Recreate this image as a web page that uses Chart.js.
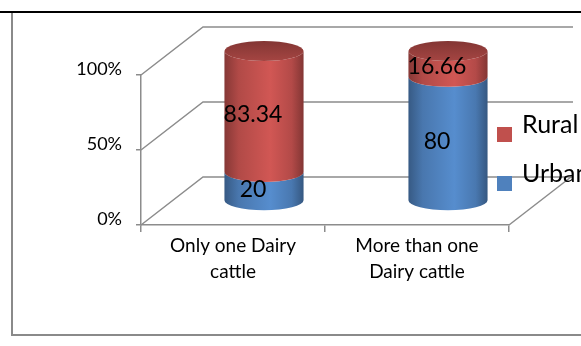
<!DOCTYPE html>
<html>
<head>
<meta charset="utf-8">
<style>
  html, body { margin: 0; padding: 0; background: #fff; }
  canvas { display: block; }
</style>
</head>
<body>
<canvas id="chart" width="581" height="346"></canvas>
<script src="https://cdn.jsdelivr.net/npm/chart.js@4/dist/chart.umd.min.js"></script>
<script>
// Dairy cattle ownership, Urban vs Rural (100% stacked)
const categories = [['Only one Dairy', 'cattle'], ['More than one', 'Dairy cattle']];
const urban = [20, 80];
const rural = [83.34, 16.66];
const yTickValues = [0, 50, 100];
const seriesNames = ['Urban', 'Rural'];
const seriesColors = ['#4F81BD', '#C0504D'];

// share of each series within its category, in percent
const shareOf = (part, other) => part.map((v, i) => v / (v + other[i]) * 100);
const rawValues = [urban, rural];

const LINE = '#8c8c8c';
const FONT = 'Lato, "Open Sans", sans-serif';
const DEPTH = { dx: 62, dy: -48 };   // back wall offset of the 3D box
const MID = { dx: 31, dy: -24 };     // cylinders sit halfway into the box
const LABEL = { dx: 20, dy: -21 };
const RY = 10;

function shade(hex, f) {
  const n = parseInt(hex.slice(1), 16);
  const ch = [(n >> 16) & 255, (n >> 8) & 255, n & 255].map(c => Math.max(0, Math.min(255, Math.round(c * f))));
  return `rgb(${ch[0]},${ch[1]},${ch[2]})`;
}

const cylinders3d = {
  id: 'cylinders3d',
  beforeDatasetsDraw(chart) {
    const ctx = chart.ctx;
    const area = chart.chartArea;
    const ys = chart.scales.y;
    ctx.save();

    // side and back walls of the box
    ctx.strokeStyle = LINE;
    ctx.lineWidth = 1.5;
    yTickValues.forEach(v => {
      const py = ys.getPixelForValue(v);
      ctx.beginPath();
      ctx.moveTo(area.left, py);
      ctx.lineTo(area.left + DEPTH.dx, py + DEPTH.dy);
      ctx.lineTo(area.right + DEPTH.dx + 2, py + DEPTH.dy);
      ctx.stroke();
    });
    ctx.beginPath();
    ctx.moveTo(area.right, area.bottom);
    ctx.lineTo(area.right + DEPTH.dx, area.bottom + DEPTH.dy);
    ctx.stroke();

    // cylinders, bottom series first
    const last = chart.data.datasets.length - 1;
    chart.data.datasets.forEach((ds, i) => {
      const meta = chart.getDatasetMeta(i);
      const base = seriesColors[i];
      meta.data.forEach(el => {
        const cx = el.x + MID.dx;
        const rx = el.width / 2;
        const ty = el.y + MID.dy;
        const by = el.base + MID.dy;

        const g = ctx.createLinearGradient(cx - rx, 0, cx + rx, 0);
        g.addColorStop(0, shade(base, 0.7));
        g.addColorStop(0.18, shade(base, 0.92));
        g.addColorStop(0.58, shade(base, 1.09));
        g.addColorStop(0.85, shade(base, 0.93));
        g.addColorStop(1, shade(base, 0.68));

        ctx.beginPath();
        ctx.moveTo(cx + rx, ty);
        ctx.ellipse(cx, ty, rx, RY, 0, 0, Math.PI, false);
        ctx.lineTo(cx - rx, by);
        ctx.ellipse(cx, by, rx, RY, 0, Math.PI, 0, true);
        ctx.closePath();
        ctx.fillStyle = g;
        ctx.fill();

        if (i === last) {
          const cg = ctx.createLinearGradient(0, ty - RY, 0, ty + RY);
          cg.addColorStop(0, shade(base, 0.68));
          cg.addColorStop(1, shade(base, 0.86));
          ctx.beginPath();
          ctx.ellipse(cx, ty, rx, RY, 0, 0, Math.PI * 2);
          ctx.fillStyle = cg;
          ctx.fill();
        }
      });
    });

    // value labels
    ctx.font = `23px ${FONT}`;
    ctx.fillStyle = '#000';
    ctx.textAlign = 'center';
    ctx.textBaseline = 'middle';
    chart.data.datasets.forEach((ds, i) => {
      chart.getDatasetMeta(i).data.forEach((el, j) => {
        ctx.fillText(String(rawValues[i][j]), el.x + LABEL.dx, (el.y + el.base) / 2 + LABEL.dy);
      });
    });

    ctx.restore();
    return false;
  },
  afterDraw(chart) {
    const ctx = chart.ctx;
    ctx.save();
    // legend, top series first
    ctx.font = `25px ${FONT}`;
    ctx.textAlign = 'left';
    ctx.textBaseline = 'alphabetic';
    const order = chart.data.datasets.map((d, i) => i).reverse();
    order.forEach((i, k) => {
      const top = 127 + k * 49;
      ctx.fillStyle = seriesColors[i];
      ctx.fillRect(497, top, 15, 15);
      ctx.fillStyle = '#000';
      ctx.fillText(chart.data.datasets[i].label, 522, top + 6);
    });
    // surrounding frame
    ctx.fillStyle = '#000';
    ctx.fillRect(0, 11, 581, 2);
    ctx.fillStyle = '#8a8a8a';
    ctx.fillRect(11, 13, 2, 323);
    ctx.fillRect(11, 334, 570, 2);
    ctx.restore();
  }
};

new Chart(document.getElementById('chart'), {
  type: 'bar',
  data: {
    labels: categories,
    datasets: [
      { label: seriesNames[0], data: shareOf(urban, rural), backgroundColor: seriesColors[0] },
      { label: seriesNames[1], data: shareOf(rural, urban), backgroundColor: seriesColors[1] }
    ]
  },
  options: {
    responsive: false,
    animation: false,
    devicePixelRatio: 1,
    layout: { padding: { top: 75, right: 72, left: 0, bottom: 0 } },
    datasets: { bar: { barPercentage: 0.43, categoryPercentage: 1 } },
    plugins: { legend: { display: false }, tooltip: { enabled: false } },
    scales: {
      x: {
        stacked: true,
        grid: { offset: true, drawOnChartArea: false, drawTicks: true, tickLength: 7, color: LINE, lineWidth: 1.5 },
        border: { color: LINE, width: 1.5 },
        ticks: { font: { family: FONT, size: 19, lineHeight: 1.35 }, color: '#000', padding: 1, maxRotation: 0, autoSkip: false },
        afterFit: s => { s.height = 121; }
      },
      y: {
        stacked: true,
        min: 0,
        max: 100,
        grid: { drawOnChartArea: false, drawTicks: true, tickLength: 5, color: LINE, lineWidth: 1.5 },
        border: { color: LINE, width: 1.5 },
        ticks: { stepSize: 50, callback: v => v + '%', font: { family: FONT, size: 18 }, color: '#000', padding: 14, labelOffset: -6 },
        afterFit: s => { s.width = 141; }
      }
    }
  },
  plugins: [cylinders3d]
});
</script>
</body>
</html>
